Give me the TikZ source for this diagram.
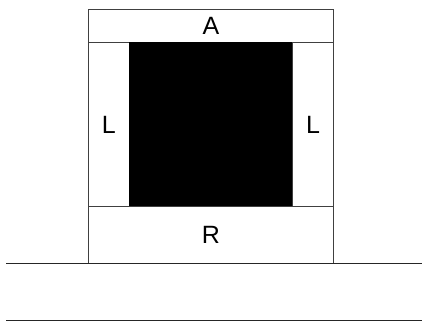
\documentclass[tikz,border=0pt]{standalone}
\usepackage{fontspec}
\setmainfont{Liberation Sans}
\begin{document}
\begin{tikzpicture}[x=1pt,y=-1pt,
  band/.style={draw=black!75,line width=0.9pt,fill=white,inner sep=0pt,font=\fontsize{25}{25}\selectfont},
  core/.style={fill=black,draw=none,inner sep=0pt},
  ground/.style={draw=black!85,line width=1pt}]
\useasboundingbox (0,0) rectangle (422,322);
\node[band,minimum width=245pt,minimum height=33pt,anchor=north west] (A) at (88,9) {A};
\node[band,minimum width=41pt,minimum height=164pt,anchor=north west] (Ll) at (88,42) {L};
\node[band,minimum width=41pt,minimum height=164pt,anchor=north west] (Lr) at (292,42) {L};
\node[core,minimum width=163pt,minimum height=164pt,anchor=north west] (C) at (129,42) {};
\node[band,minimum width=245pt,minimum height=57pt,anchor=north west] (R) at (88,206) {R};
\coordinate (g1l) at (6,263);
\coordinate (g1r) at (422,263);
\coordinate (g2l) at (6,320);
\coordinate (g2r) at (422,320);
\draw[ground] (g1l) -- (g1r);
\draw[ground] (g2l) -- (g2r);
\end{tikzpicture}
\end{document}
